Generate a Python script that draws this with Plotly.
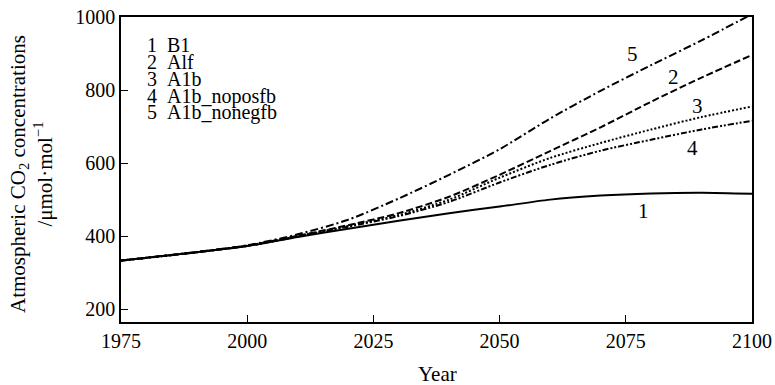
import plotly.graph_objects as go

years = [1975, 1990, 2000, 2010, 2020, 2030, 2040, 2050, 2060, 2070, 2080, 2090, 2100]
b1 = [333, 356, 373, 398, 420, 442, 463, 481, 500, 511, 517, 519, 516]
alf = [333, 356, 374, 401, 430, 463, 508, 568, 633, 698, 768, 834, 896]
a1b = [333, 356, 374, 400, 428, 458, 500, 560, 614, 655, 692, 726, 755]
a1b_noposfb = [333, 356, 373, 399, 426, 455, 494, 547, 595, 634, 664, 692, 716]
a1b_nonegfb = [333, 357, 375, 405, 445, 503, 568, 638, 722, 798, 868, 936, 1008]

series_names = ["B1", "Alf", "A1b", "A1b_noposfb", "A1b_nonegfb"]
series_values = [b1, alf, a1b, a1b_noposfb, a1b_nonegfb]
series_dash = ["solid", "7px,3px", "2px,2px", "6px,2px,2px,2px,2px,2px", "8px,3px,2px,3px"]

x_ticks = [1975, 2000, 2025, 2050, 2075, 2100]
y_ticks = [200, 400, 600, 800, 1000]

# curve number labels (year, value)
label_pos = [(2078.5, 470), (2084.5, 835), (2089.2, 757), (2088.3, 642), (2076.3, 898)]

FONT = "Liberation Serif, Times New Roman, serif"
FS = 20
FS_T = 21

L, R, T, B, W, H = 121, 23, 17, 63, 775, 385
PW, PH = W - L - R, H - T - B


def px_to_paper(px, py):
    return (px - L) / PW, (H - B - py) / PH


fig = go.Figure()
for name, vals, dash in zip(series_names, series_values, series_dash):
    fig.add_trace(go.Scatter(
        x=years, y=vals, mode="lines", name=name,
        line=dict(color="black", width=2, dash=dash, shape="spline", smoothing=0.8),
        showlegend=False,
    ))

for i, (lx, ly) in enumerate(label_pos):
    fig.add_annotation(x=lx, y=ly, xref="x", yref="y", text=str(i + 1),
                       showarrow=False, font=dict(family=FONT, size=FS_T, color="black"))

# legend-like text block
for i, name in enumerate(series_names):
    ax, ay = px_to_paper(145, 45 + i * 17)
    fig.add_annotation(x=ax, y=ay, xref="paper", yref="paper",
                       xanchor="left", yanchor="middle", showarrow=False,
                       text=f"{i + 1}&nbsp;&nbsp;{name}",
                       font=dict(family=FONT, size=FS, color="black"))

# axis titles
tx, ty = px_to_paper(31, 174)
fig.add_annotation(x=tx, y=ty, xref="paper", yref="paper", showarrow=False,
                   textangle=-90, xanchor="center", yanchor="middle",
                   text="Atmospheric CO<sub>2</sub> concentrations<br>/μmol·mol<sup>−1</sup>",
                   font=dict(family=FONT, size=FS_T, color="black"))
tx, ty = px_to_paper(437, 374)
fig.add_annotation(x=tx, y=ty, xref="paper", yref="paper", showarrow=False,
                   xanchor="center", yanchor="middle", text="Year",
                   font=dict(family=FONT, size=FS_T, color="black"))

axis_common = dict(ticks="inside", ticklen=7, tickwidth=1.2, tickcolor="black",
                   showline=True, linecolor="black", linewidth=1.5, mirror=True,
                   showgrid=False, zeroline=False, automargin=False,
                   tickfont=dict(family=FONT, size=FS, color="black"))

fig.update_layout(
    width=W, height=H,
    margin=dict(l=L, r=R, t=T, b=B, autoexpand=False),
    plot_bgcolor="white", paper_bgcolor="white",
    font=dict(family=FONT, size=FS, color="black"),
    xaxis=dict(range=[1975, 2100], tickvals=x_ticks, **axis_common),
    yaxis=dict(range=[165, 1000], tickvals=y_ticks, **axis_common),
)

fig.write_html("out.html", config={"displayModeBar": False},
               post_script="document.body.style.margin='0';document.body.style.overflow='hidden';")
